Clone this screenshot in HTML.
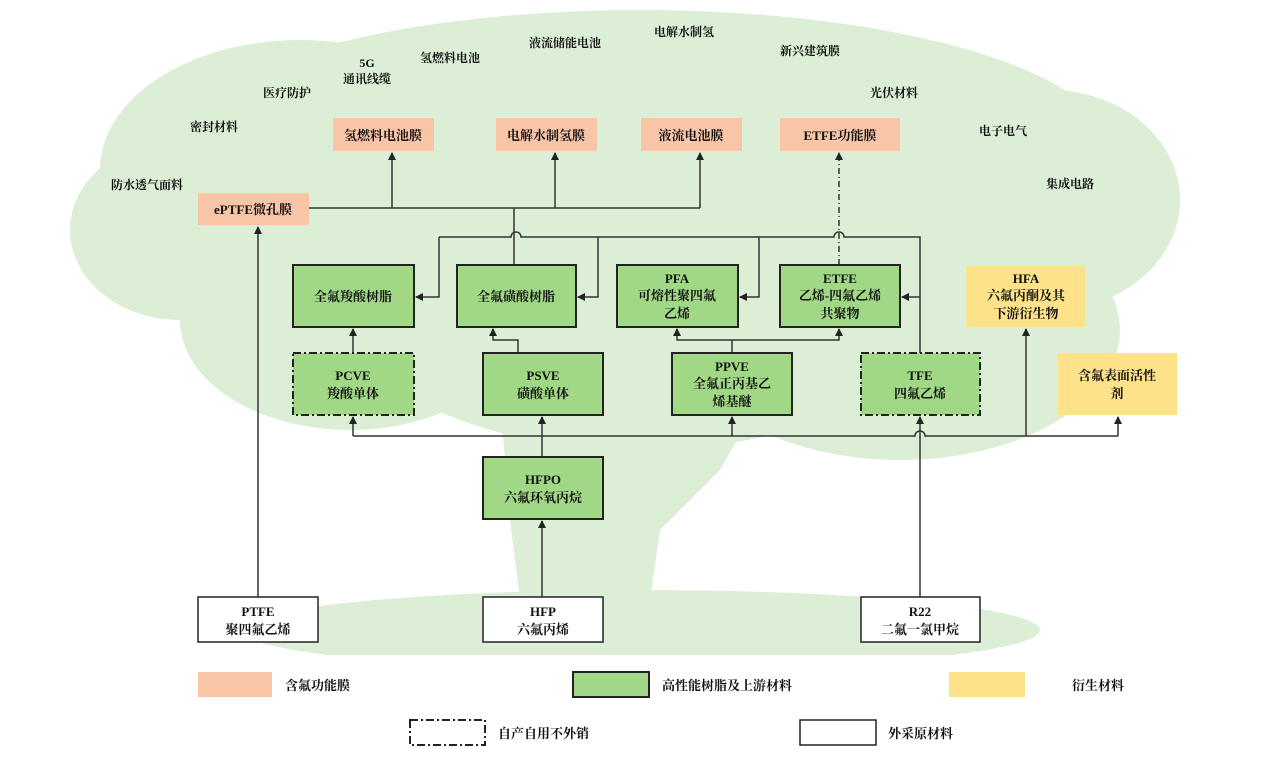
<!DOCTYPE html>
<html><head><meta charset="utf-8"><style>
body{margin:0;background:#fff}
svg text{font-family:"Liberation Serif","Noto Serif CJK SC",serif;font-weight:bold;fill:#111}
</style></head><body>
<svg width="1266" height="772" viewBox="0 0 1266 772" xmlns="http://www.w3.org/2000/svg">
<defs><marker id="a" markerWidth="8" markerHeight="8" refX="7" refY="4" orient="auto" markerUnits="userSpaceOnUse"><path d="M0,0 L8,4 L0,8z" fill="#222"/></marker></defs>
<g fill="#dcefd6">
<ellipse cx="640" cy="150" rx="470" ry="140"/>
<ellipse cx="300" cy="170" rx="200" ry="130"/>
<ellipse cx="180" cy="230" rx="110" ry="90"/>
<ellipse cx="1050" cy="200" rx="130" ry="110"/>
<ellipse cx="640" cy="90" rx="330" ry="80"/>
<ellipse cx="350" cy="320" rx="170" ry="110"/>
<ellipse cx="900" cy="330" rx="220" ry="130"/>
<ellipse cx="640" cy="300" rx="300" ry="150"/>
<path d="M500,400 L760,400 L720,470 L660,530 L650,600 L520,600 L510,520 Z"/>
<ellipse cx="640" cy="630" rx="400" ry="40"/>
</g>
<rect x="0" y="655" width="1266" height="117" fill="#fff"/>
<g font-size="12" text-anchor="middle">
<text x="147" y="189">防水透气面料</text><text x="214" y="131">密封材料</text><text x="287" y="97">医疗防护</text>
<text x="367" y="67">5G</text><text x="367" y="83">通讯线缆</text><text x="450" y="62">氢燃料电池</text>
<text x="565" y="47">液流储能电池</text><text x="684" y="36">电解水制氢</text><text x="810" y="55">新兴建筑膜</text>
<text x="894" y="97">光伏材料</text><text x="1003" y="135">电子电气</text><text x="1070" y="188">集成电路</text>
</g>
<g stroke="#333" stroke-width="1.5" fill="none">
<path d="M309,208 H700"/>
<path d="M392,208 V153" marker-end="url(#a)"/><path d="M555,208 V153" marker-end="url(#a)"/><path d="M700,208 V153" marker-end="url(#a)"/>
<path d="M514,208 V265"/>
<path d="M439,237 H511 A5,5 0 0 1 521,237 H834 A5,5 0 0 1 844,237 H920 V353"/>
<path d="M439,237 V297 H416" marker-end="url(#a)"/>
<path d="M598,237 V297 H578" marker-end="url(#a)"/>
<path d="M759,237 V297 H740" marker-end="url(#a)"/>
<path d="M920,297 H902" marker-end="url(#a)"/>
<path d="M839,265 V153" stroke-dasharray="6,3,1,3" marker-end="url(#a)"/>
<path d="M353,353 V329" marker-end="url(#a)"/>
<path d="M518,353 V340 H493 V329" marker-end="url(#a)"/>
<path d="M732,353 V340 H677 V329" marker-end="url(#a)"/><path d="M732,340 H839 V329" marker-end="url(#a)"/>
<path d="M353,436 H915 A5,5 0 0 1 925,436 H1118"/>
<path d="M353,436 V417" marker-end="url(#a)"/><path d="M542,457 V417" marker-end="url(#a)"/>
<path d="M732,436 V417" marker-end="url(#a)"/><path d="M1026,436 V329" marker-end="url(#a)"/>
<path d="M1118,436 V417" marker-end="url(#a)"/>
<path d="M920,597 V417" marker-end="url(#a)"/>
<path d="M542,597 V521" marker-end="url(#a)"/>
<path d="M258,597 V227" marker-end="url(#a)"/>
</g>
<g fill="#f9c5a7">
<rect x="333" y="118" width="101" height="33"/><rect x="496" y="118" width="101" height="33"/>
<rect x="641" y="118" width="101" height="33"/><rect x="780" y="118" width="120" height="33"/>
<rect x="198" y="193" width="111" height="32"/><rect x="198" y="672" width="74" height="25"/>
</g>
<g fill="#fde289"><rect x="966" y="266" width="119" height="61"/><rect x="1058" y="353" width="119" height="62"/><rect x="949" y="672" width="76" height="25"/></g>
<g fill="#a0d886" stroke="#222" stroke-width="2">
<rect x="293" y="265" width="121" height="62"/><rect x="457" y="265" width="119" height="62"/>
<rect x="617" y="265" width="121" height="62"/><rect x="780" y="265" width="120" height="62"/>
<rect x="483" y="353" width="120" height="62"/><rect x="672" y="353" width="120" height="62"/>
<rect x="483" y="457" width="120" height="62"/><rect x="573" y="672" width="76" height="25"/>
</g>
<g fill="#a0d886" stroke="#222" stroke-width="2" stroke-dasharray="8,3,2,3">
<rect x="293" y="353" width="121" height="62"/><rect x="861" y="353" width="119" height="62"/>
</g>
<rect x="410" y="720" width="75" height="25" fill="#fff" stroke="#222" stroke-width="2" stroke-dasharray="8,3,2,3"/>
<g fill="#fff" stroke="#222" stroke-width="1.5">
<rect x="198" y="597" width="120" height="45"/><rect x="483" y="597" width="120" height="45"/>
<rect x="861" y="597" width="119" height="45"/><rect x="800" y="720" width="76" height="25"/>
</g>
<g font-size="13" text-anchor="middle">
<text x="383" y="140">氢燃料电池膜</text><text x="546" y="140">电解水制氢膜</text><text x="691" y="140">液流电池膜</text><text x="840" y="140">ETFE功能膜</text>
<text x="253" y="214">ePTFE微孔膜</text>
<text x="353" y="301">全氟羧酸树脂</text><text x="516" y="301">全氟磺酸树脂</text>
<text x="677" y="283">PFA</text><text x="677" y="300">可熔性聚四氟</text><text x="677" y="318">乙烯</text>
<text x="840" y="283">ETFE</text><text x="840" y="300">乙烯-四氟乙烯</text><text x="840" y="318">共聚物</text>
<text x="1026" y="283">HFA</text><text x="1026" y="300">六氟丙酮及其</text><text x="1026" y="318">下游衍生物</text>
<text x="353" y="380">PCVE</text><text x="353" y="398">羧酸单体</text>
<text x="543" y="380">PSVE</text><text x="543" y="398">磺酸单体</text>
<text x="732" y="371">PPVE</text><text x="732" y="388">全氟正丙基乙</text><text x="732" y="406">烯基醚</text>
<text x="920" y="380">TFE</text><text x="920" y="398">四氟乙烯</text>
<text x="1117" y="380">含氟表面活性</text><text x="1117" y="398">剂</text>
<text x="543" y="484">HFPO</text><text x="543" y="502">六氟环氧丙烷</text>
<text x="258" y="616">PTFE</text><text x="258" y="634">聚四氟乙烯</text>
<text x="543" y="616">HFP</text><text x="543" y="634">六氟丙烯</text>
<text x="920" y="616">R22</text><text x="920" y="634">二氟一氯甲烷</text>
</g>
<g font-size="13">
<text x="285" y="690">含氟功能膜</text><text x="662" y="690">高性能树脂及上游材料</text><text x="1072" y="690">衍生材料</text>
<text x="498" y="738">自产自用不外销</text><text x="888" y="738">外采原材料</text>
</g>
</svg>
</body></html>
